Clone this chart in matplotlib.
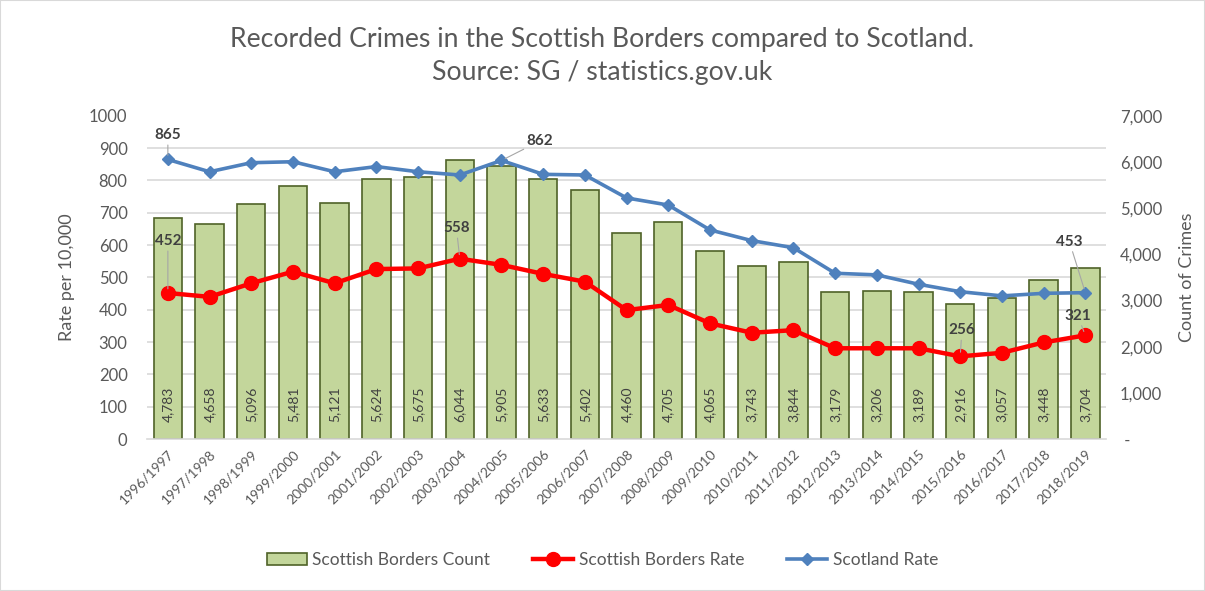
import matplotlib
matplotlib.use("Agg")
import matplotlib.pyplot as plt
from matplotlib.patches import Rectangle
from matplotlib.ticker import FuncFormatter, MultipleLocator

plt.rcParams['font.family'] = ['Lato', 'DejaVu Sans']

years = ["1996/1997", "1997/1998", "1998/1999", "1999/2000", "2000/2001", "2001/2002",
         "2002/2003", "2003/2004", "2004/2005", "2005/2006", "2006/2007", "2007/2008",
         "2008/2009", "2009/2010", "2010/2011", "2011/2012", "2012/2013", "2013/2014",
         "2014/2015", "2015/2016", "2016/2017", "2017/2018", "2018/2019"]
borders_count = [4783, 4658, 5096, 5481, 5121, 5624, 5675, 6044, 5905, 5633, 5402, 4460,
                 4705, 4065, 3743, 3844, 3179, 3206, 3189, 2916, 3057, 3448, 3704]
borders_rate = [452, 440, 482, 518, 482, 526, 528, 558, 539, 511, 487, 399,
                415, 358, 329, 337, 281, 281, 281, 256, 267, 299, 321]
scotland_rate = [865, 827, 855, 858, 827, 843, 827, 817, 862, 819, 817, 746,
                 724, 647, 614, 592, 513, 508, 479, 456, 443, 451, 453]

TXT = '#595959'
LBL = '#404040'

fig = plt.figure(figsize=(12.05, 5.91), dpi=100)
fig.patches.append(Rectangle((0, 0), 1, 1, transform=fig.transFigure, fill=False,
                             edgecolor='#D9D9D9', lw=1.5))

rect = [0.122, 0.257, 0.796, 0.547]
ax2 = fig.add_axes(rect)          # bars, right scale
ax = fig.add_axes(rect, sharex=ax2)  # rates, left scale
ax.set_zorder(ax2.get_zorder() + 1)
ax.patch.set_visible(False)

x = list(range(len(years)))

# bars
ax2.bar(x, borders_count, width=0.68, color='#C3D69B', edgecolor='#4F6228', lw=1.2,
        label='Scottish Borders Count', zorder=2)
ax2.set_ylim(0, 7000)
ax2.yaxis.tick_right()
ax2.yaxis.set_label_position('right')
ax2.yaxis.set_major_locator(MultipleLocator(1000))
ax2.yaxis.set_major_formatter(FuncFormatter(lambda v, p: ' -' if v == 0 else f"{int(v):,}"))
ax2.yaxis.set_minor_locator(MultipleLocator(700))
ax2.grid(which='minor', axis='y', color='#D9D9D9', lw=1.2, zorder=0)
ax2.set_axisbelow(True)
ax2.tick_params(axis='y', which='both', length=0, labelsize=12, labelcolor=TXT, pad=10)
ax2.set_ylabel('Count of Crimes', fontsize=13, color=TXT, labelpad=12)
for s in ['top', 'left', 'right']:
    ax2.spines[s].set_visible(False)
ax2.spines['bottom'].set_color('#D9D9D9')
ax2.spines['bottom'].set_linewidth(1.2)

for i, v in enumerate(borders_count):
    ax2.annotate(f"{v:,}", xy=(i, 0), xytext=(0, 12), textcoords='offset points',
                 rotation=90, ha='center', va='bottom', fontsize=10, color=LBL, zorder=3)

# lines
ax.plot(x, borders_rate, color='#FF0000', lw=3.2, marker='o', markersize=10,
        label='Scottish Borders Rate', zorder=4)
ax.plot(x, scotland_rate, color='#4F81BD', lw=2.6, marker='D', markersize=6.5,
        label='Scotland Rate', zorder=4)
ax.set_ylim(0, 1000)
ax.set_xlim(-0.5, len(years) - 0.5)
ax.yaxis.set_major_locator(MultipleLocator(100))
ax.tick_params(axis='y', length=0, labelsize=12, labelcolor=TXT, pad=14)
ax.set_ylabel('Rate per 10,000', fontsize=13, color=TXT, labelpad=10)
for s in ax.spines.values():
    s.set_visible(False)
ax.set_xticks(x)
ax.set_xticklabels(years, rotation=45, ha='right', rotation_mode='anchor',
                   fontsize=10, color=TXT)
ax.tick_params(axis='x', length=0, pad=6)
ax2.tick_params(axis='x', length=0, labelbottom=False)

# data labels
lead = dict(arrowstyle='-', color='#A6A6A6', lw=0.8, shrinkA=0, shrinkB=3)
labels = [
    (0, scotland_rate[0], 0.0, 940),
    (8, scotland_rate[8], 8.92, 922),
    (0, borders_rate[0], 0.0, 612),
    (7, borders_rate[7], 6.92, 652),
    (19, borders_rate[19], 19.04, 336),
    (22, scotland_rate[22], 21.62, 610),
    (22, borders_rate[22], 21.82, 381),
]
for xi, yi, tx, ty in labels:
    ax.annotate(f"{yi}", xy=(xi, yi), xytext=(tx, ty), textcoords='data',
                ha='center', va='center', fontsize=11, fontweight='bold', color=LBL,
                arrowprops=lead, zorder=5)

fig.suptitle('Recorded Crimes in the Scottish Borders compared to Scotland.\nSource: SG / statistics.gov.uk',
             y=0.955, fontsize=19.2, color=TXT, linespacing=1.4)

h1, l1 = ax2.get_legend_handles_labels()
h2, l2 = ax.get_legend_handles_labels()
fig.legend(h1 + h2, l1 + l2, loc='center', bbox_to_anchor=(0.5, 0.052), ncol=3,
           frameon=False, fontsize=12.5, labelcolor=TXT, handlelength=2.3,
           columnspacing=2.5, handletextpad=0.3)

fig.savefig('out.png', dpi=100)
